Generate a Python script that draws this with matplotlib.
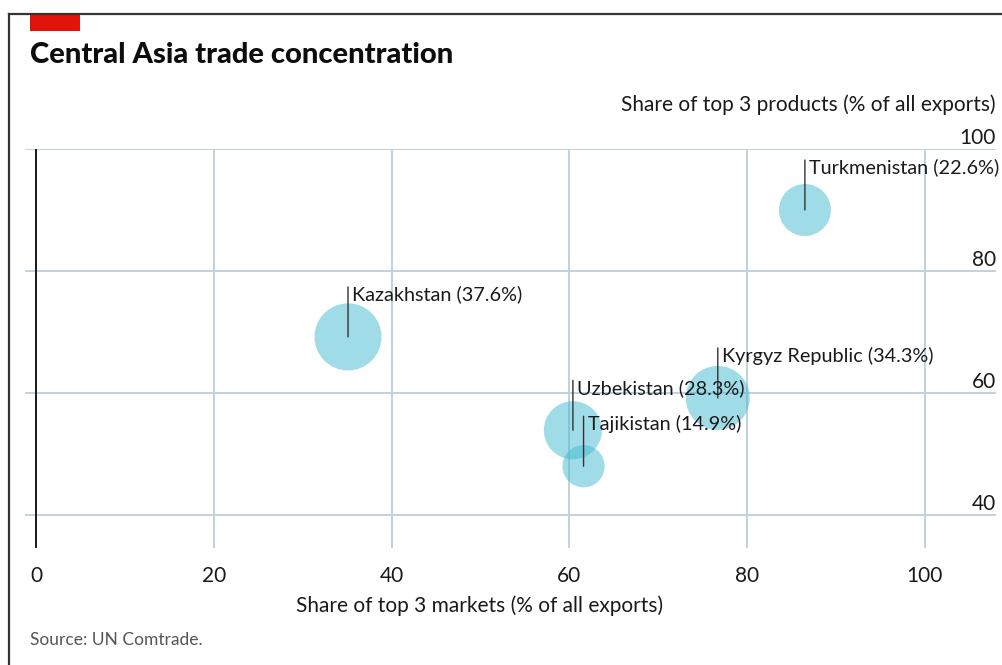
import matplotlib
matplotlib.use("Agg")
import matplotlib.pyplot as plt
from matplotlib.lines import Line2D
from matplotlib.patches import Rectangle
import matplotlib.transforms as mtransforms

plt.rcParams["font.family"] = ["Lato", "DejaVu Sans"]

# data
countries = ["Turkmenistan", "Kazakhstan", "Kyrgyz Republic", "Uzbekistan", "Tajikistan"]
top3_markets = [86.5, 35.1, 76.7, 60.4, 61.6]
top3_products = [90.0, 69.2, 59.2, 53.9, 48.0]
share_pct = [22.6, 37.6, 34.3, 28.3, 14.9]
x_ticks = [0, 20, 40, 60, 80, 100]
y_ticks = [40, 60, 80, 100]

W, H = 1003, 665
fig = plt.figure(figsize=(W / 100, H / 100), dpi=100)
ax = fig.add_axes([25 / W, 1 - 548 / H, 971 / W, 399 / H])
ax.set_xlim(-1.24, 108.0)
ax.set_ylim(34.6, 100)

GRID = "#c3d1dc"
BUBBLE = "#41bbd1"
INK = "#1a1a1a"

for s in ax.spines.values():
    s.set_visible(False)
ax.set_xticks(x_ticks)
ax.set_xticklabels([str(v) for v in x_ticks], fontsize=15, color=INK)
ax.set_yticks(y_ticks)
ax.set_yticklabels([])
ax.tick_params(length=0, axis="x", pad=13)
ax.tick_params(length=0, axis="y")
ax.grid(True, color=GRID, lw=1.4)
ax.set_axisbelow(True)
ax.axvline(0, color=INK, lw=1.4, zorder=1.5)

# y tick labels sit above the gridlines at the right edge
trans = mtransforms.blended_transform_factory(ax.transAxes, ax.transData)
for v in y_ticks:
    ax.annotate(str(v), xy=(1.0, v), xycoords=trans, xytext=(0, 1),
                textcoords="offset points", ha="right", va="bottom",
                fontsize=15, color=INK)

ax.scatter(top3_markets, top3_products, s=[62 * p for p in share_pct],
           color=BUBBLE, alpha=0.5, lw=0, zorder=2)

for name, x, y, p in zip(countries, top3_markets, top3_products, share_pct):
    ax.annotate("", xy=(x, y), xytext=(0, 36), textcoords="offset points",
                arrowprops=dict(arrowstyle="-", color="#333333", lw=1.0,
                                shrinkA=0, shrinkB=0), zorder=3)
    ax.annotate(f"{name} ({p}%)", xy=(x, y), xytext=(3, 37),
                textcoords="offset points", ha="left", va="top",
                fontsize=14.3, color=INK, zorder=4)

# titles and frame
fig.text(996 / W, 1 - 105 / H, "Share of top 3 products (% of all exports)",
         ha="right", va="center", fontsize=15, color=INK)
fig.text(480 / W, 1 - 606 / H, "Share of top 3 markets (% of all exports)",
         ha="center", va="center", fontsize=15, color=INK)
fig.text(30 / W, 1 - 55 / H, "Central Asia trade concentration",
         ha="left", va="center", fontsize=21, fontweight="black", color="#0d0d0d")
fig.text(30 / W, 1 - 640 / H, "Source: UN Comtrade.",
         ha="left", va="center", fontsize=12.5, color="#555555")

fig.patches.append(Rectangle((30 / W, 1 - 31 / H), 50 / W, 17 / H,
                             transform=fig.transFigure, color="#e3120b", lw=0))
fig.lines.append(Line2D([9 / W, 9 / W], [0, 1 - 14 / H], transform=fig.transFigure,
                        color="#333333", lw=1.6))
fig.lines.append(Line2D([9 / W, 1], [1 - 14 / H, 1 - 14 / H], transform=fig.transFigure,
                        color="#333333", lw=1.6))

fig.savefig("out.png", dpi=100)
